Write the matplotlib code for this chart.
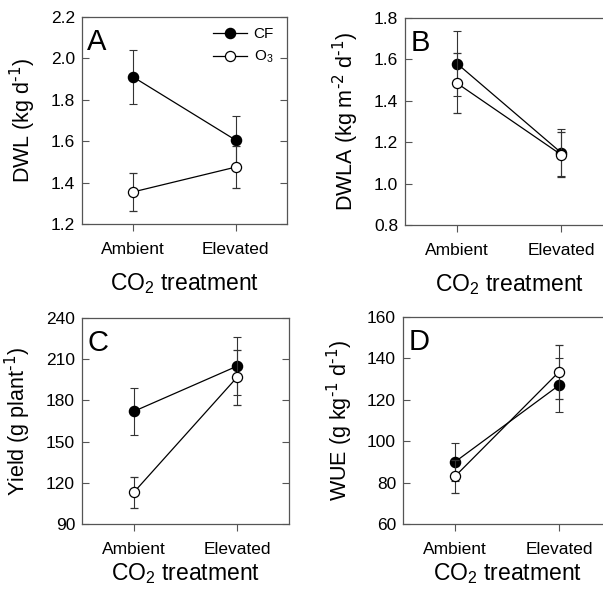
import matplotlib
matplotlib.use("Agg")
import matplotlib.pyplot as plt
from matplotlib.lines import Line2D

plt.rcParams['font.family'] = ['Liberation Sans', 'DejaVu Sans']
plt.rcParams['mathtext.default'] = 'regular'

categories = ["Ambient", "Elevated"]

# Panel A: DWL
dwl_cf = [1.91, 1.605]
dwl_cf_err = [0.13, 0.115]
dwl_o3 = [1.355, 1.475]
dwl_o3_err = [0.09, 0.10]

# Panel B: DWLA
dwla_cf = [1.58, 1.15]
dwla_cf_err = [0.155, 0.115]
dwla_o3 = [1.485, 1.14]
dwla_o3_err = [0.145, 0.11]

# Panel C: Yield
yield_cf = [172, 205]
yield_cf_err = [17, 21]
yield_o3 = [113, 197]
yield_o3_err = [11, 20]

# Panel D: WUE
wue_cf = [90, 127]
wue_cf_err = [9, 13]
wue_o3 = [83, 133.5]
wue_o3_err = [8, 13]

W, H = 603, 592
fig = plt.figure(figsize=(W/100, H/100), dpi=100)

def rect(l, t, r, b):
    return [l/W, 1 - b/H, (r-l)/W, (b-t)/H]

panels = [
    dict(pos=rect(82, 17, 287, 224), cf=dwl_cf, cfe=dwl_cf_err, o3=dwl_o3, o3e=dwl_o3_err,
         ylim=(1.2, 2.2), ticks=[1.2, 1.4, 1.6, 1.8, 2.0, 2.2], fmt="{:.1f}",
         ylabel=r"DWL (kg d$^{\text{-1}}$)", letter="A", legend=True, xlpad=10),
    dict(pos=rect(405, 18, 613, 225), cf=dwla_cf, cfe=dwla_cf_err, o3=dwla_o3, o3e=dwla_o3_err,
         ylim=(0.8, 1.8), ticks=[0.8, 1.0, 1.2, 1.4, 1.6, 1.8], fmt="{:.1f}",
         ylabel=r"DWLA (kg m$^{\text{-2}}$ d$^{\text{-1}}$)", letter="B", legend=False, xlpad=10),
    dict(pos=rect(82, 318, 289, 524), cf=yield_cf, cfe=yield_cf_err, o3=yield_o3, o3e=yield_o3_err,
         ylim=(90, 240), ticks=[90, 120, 150, 180, 210, 240], fmt="{:.0f}",
         ylabel=r"Yield (g plant$^{\text{-1}}$)", letter="C", legend=False, xlpad=3),
    dict(pos=rect(403, 317, 611, 524), cf=wue_cf, cfe=wue_cf_err, o3=wue_o3, o3e=wue_o3_err,
         ylim=(60, 160), ticks=[60, 80, 100, 120, 140, 160], fmt="{:.0f}",
         ylabel=r"WUE (g kg$^{\text{-1}}$ d$^{\text{-1}}$)", letter="D", legend=False, xlpad=3),
]

x = list(range(len(categories)))
spine_col = "#555555"
MS = 7.3

for p in panels:
    ax = fig.add_axes(p["pos"])
    ax.errorbar(x, p["cf"], yerr=p["cfe"], color="black", ecolor="#333333", elinewidth=0.8,
                capsize=3, capthick=0.8, lw=0.9, marker="o", ms=MS, mfc="black", mec="black",
                zorder=3)
    ax.errorbar(x, p["o3"], yerr=p["o3e"], color="black", ecolor="#333333", elinewidth=0.8,
                capsize=3, capthick=0.8, lw=0.9, marker="o", ms=MS, mfc="white", mec="black",
                mew=0.9, zorder=4)
    ax.set_xlim(-0.5, 1.5)
    ax.set_ylim(*p["ylim"])
    ax.set_xticks(x)
    ax.set_xticklabels(categories, fontsize=12.5)
    ax.set_yticks(p["ticks"])
    ax.set_yticklabels([p["fmt"].format(t) for t in p["ticks"]], fontsize=12.5)
    ax.tick_params(axis="y", direction="in", length=5, width=0.8, color=spine_col,
                   left=True, right=True, pad=5)
    ax.tick_params(axis="x", direction="out", length=5, width=0.8, color=spine_col, pad=8)
    for s in ax.spines.values():
        s.set_color(spine_col)
        s.set_linewidth(0.9)
    ax.set_ylabel(p["ylabel"], fontsize=15.5, labelpad=9)
    ax.set_xlabel("CO$_2$ treatment", fontsize=16.5, labelpad=p["xlpad"])
    ax.text(0.025, 0.945, p["letter"], transform=ax.transAxes, fontsize=21,
            ha="left", va="top")
    if p["legend"]:
        handles = [
            Line2D([], [], color="black", lw=0.9, marker="o", ms=MS, mfc="black", mec="black"),
            Line2D([], [], color="black", lw=0.9, marker="o", ms=MS, mfc="white", mec="black", mew=0.9),
        ]
        ax.legend(handles, ["CF", "O$_3$"], loc="upper left", bbox_to_anchor=(0.64, 0.95),
                  frameon=False, fontsize=11, handlelength=2.2, handletextpad=0.45,
                  labelspacing=0.5, borderpad=0, borderaxespad=0, numpoints=1)

fig.savefig("out.png", dpi=100)
